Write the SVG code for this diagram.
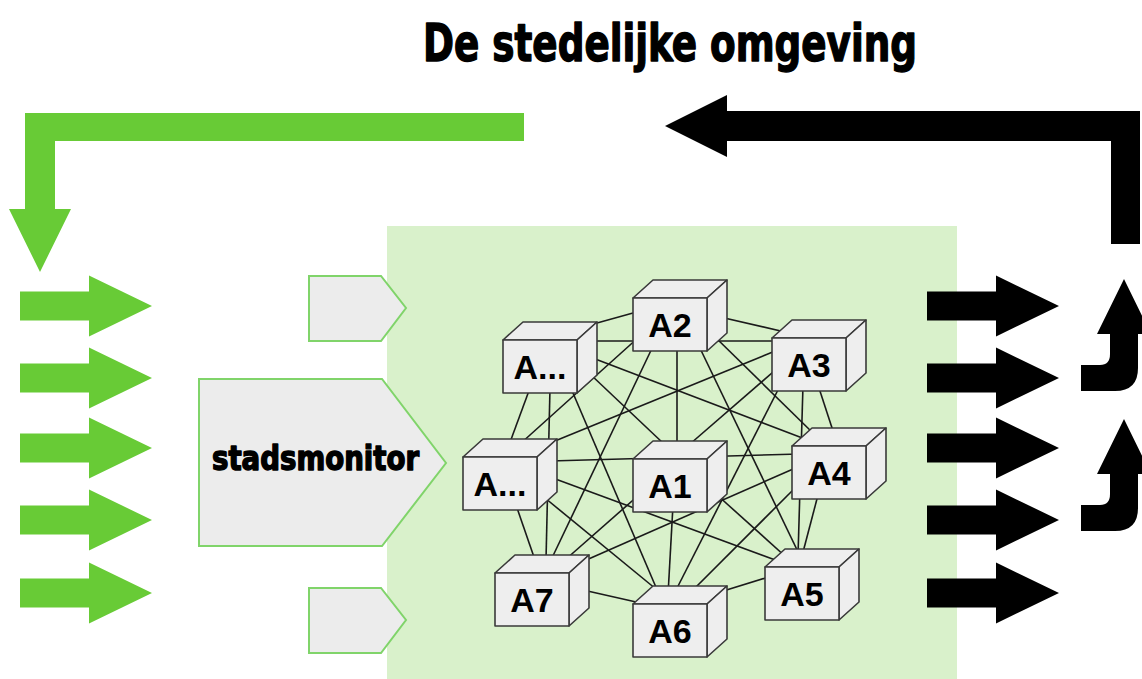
<svg xmlns="http://www.w3.org/2000/svg" width="1142" height="679" viewBox="0 0 1142 679">
<style>
.g{fill:#68cb36}
.k{fill:#000}
.pent{fill:#ececec;stroke:#80d46a;stroke-width:2}
.face{fill:#eeeeee;stroke:#3a3a3a;stroke-width:1.6;stroke-linejoin:round}
.lbl{font-family:"Liberation Sans",Arial,sans-serif;font-weight:bold;font-size:34px;fill:#000;text-anchor:middle}
.imp{font-family:"DejaVu Sans Condensed","DejaVu Sans",sans-serif;font-weight:bold;fill:#000;stroke:#000;stroke-width:1.4;stroke-linejoin:round}
.edge line{stroke:#1a1a1a;stroke-width:1.6}
</style>
<defs>
<path id="rarrow" d="M0,-14.5 H69 V-30.5 L132,0 L69,30.5 V14.5 H0 Z"/>
<g id="cube">
<polygon class="face" points="0,0 20,-18 94,-18 74,0"/>
<polygon class="face" points="74,0 94,-18 94,35 74,53"/>
<rect class="face" x="0" y="0" width="74" height="53"/>
</g>
<path id="uparrow" d="M1081,365 L1100,365 Q1110,365 1110,354 L1110,334 L1097,334 L1124,279 L1151,334 L1138,334 L1138,368 Q1138,391 1115,391 L1081,391 Z"/>
</defs>
<rect width="1142" height="679" fill="#ffffff"/>
<rect id="omgeving-bg" x="387" y="226" width="570" height="453" fill="#d9f1cb"/>
<text class="imp" x="423" y="61" font-size="52" textLength="494" lengthAdjust="spacingAndGlyphs">De stedelijke omgeving</text>
<g id="feedback-arrows">
<path class="g" d="M524,113 V141 H55 V209 H71 L40,272 L9,209 H25 V113 Z"/>
<path class="k" d="M1140,111 V244 H1111 V141 H727 V157 L665,126 L727,95 V111 Z"/>
</g>
<g id="input-arrows" class="g">
<use href="#rarrow" x="20" y="306"/>
<use href="#rarrow" x="20" y="378"/>
<use href="#rarrow" x="20" y="448"/>
<use href="#rarrow" x="20" y="520"/>
<use href="#rarrow" x="20" y="593"/>
</g>
<g id="output-arrows" class="k">
<use href="#rarrow" x="927" y="306"/>
<use href="#rarrow" x="927" y="378"/>
<use href="#rarrow" x="927" y="448"/>
<use href="#rarrow" x="927" y="520"/>
<use href="#rarrow" x="927" y="593"/>
<use href="#uparrow"/>
<use href="#uparrow" y="140"/>
</g>
<g id="stadsmonitor">
<polygon class="pent" points="199,379 382,379 446,463 382,546 199,546"/>
<text class="imp" x="212" y="470" font-size="33" textLength="207" lengthAdjust="spacingAndGlyphs">stadsmonitor</text>
</g>
<g id="input-top"><polygon class="pent" points="309,276 381,276 406,308 381,341 309,341"/></g>
<g id="input-bottom"><polygon class="pent" points="309,588 381,588 406,620 381,653 309,653"/></g>
<g id="connectors" class="edge">
<line x1="597" y1="323" x2="633" y2="313"/>
<line x1="590" y1="341" x2="780" y2="341"/>
<line x1="590" y1="357" x2="805" y2="439"/>
<line x1="590" y1="374" x2="664" y2="444"/>
<line x1="570" y1="386" x2="658" y2="592"/>
<line x1="530" y1="388" x2="509" y2="445"/>
<line x1="550" y1="388" x2="546" y2="560"/>
<line x1="720" y1="317" x2="785" y2="332"/>
<line x1="677" y1="340" x2="677" y2="450"/>
<line x1="673" y1="505" x2="668" y2="595"/>
<line x1="640" y1="336" x2="520" y2="444"/>
<line x1="655" y1="342" x2="551" y2="560"/>
<line x1="712" y1="334" x2="815" y2="435"/>
<line x1="697" y1="342" x2="800" y2="556"/>
<line x1="550" y1="443" x2="780" y2="349"/>
<line x1="690" y1="444" x2="780" y2="366"/>
<line x1="782" y1="382" x2="674" y2="594"/>
<line x1="803" y1="385" x2="798" y2="556"/>
<line x1="818" y1="385" x2="834" y2="434"/>
<line x1="818" y1="495" x2="802" y2="556"/>
<line x1="550" y1="461" x2="800" y2="454"/>
<line x1="550" y1="477" x2="778" y2="561"/>
<line x1="545" y1="498" x2="662" y2="594"/>
<line x1="516" y1="505" x2="535" y2="560"/>
<line x1="640" y1="494" x2="565" y2="560"/>
<line x1="800" y1="466" x2="584" y2="561"/>
<line x1="583" y1="590" x2="645" y2="604"/>
<line x1="798" y1="485" x2="688" y2="595"/>
<line x1="716" y1="494" x2="786" y2="557"/>
<line x1="772" y1="576" x2="720" y2="592"/>
</g>
<g id="node-A2"><use href="#cube" x="633" y="298"/><text class="lbl" x="670" y="337">A2</text></g>
<g id="node-Adots-top"><use href="#cube" x="503" y="340"/><text class="lbl" x="540" y="379">A...</text></g>
<g id="node-A3"><use href="#cube" x="772" y="338"/><text class="lbl" x="809" y="377">A3</text></g>
<g id="node-Adots-left"><use href="#cube" x="463" y="457"/><text class="lbl" x="500" y="496">A...</text></g>
<g id="node-A1"><use href="#cube" x="633" y="459"/><text class="lbl" x="670" y="498">A1</text></g>
<g id="node-A4"><use href="#cube" x="792" y="446"/><text class="lbl" x="829" y="485">A4</text></g>
<g id="node-A7"><use href="#cube" x="495" y="573"/><text class="lbl" x="532" y="612">A7</text></g>
<g id="node-A5"><use href="#cube" x="765" y="567"/><text class="lbl" x="802" y="606">A5</text></g>
<g id="node-A6"><use href="#cube" x="633" y="604"/><text class="lbl" x="670" y="643">A6</text></g>
</svg>
